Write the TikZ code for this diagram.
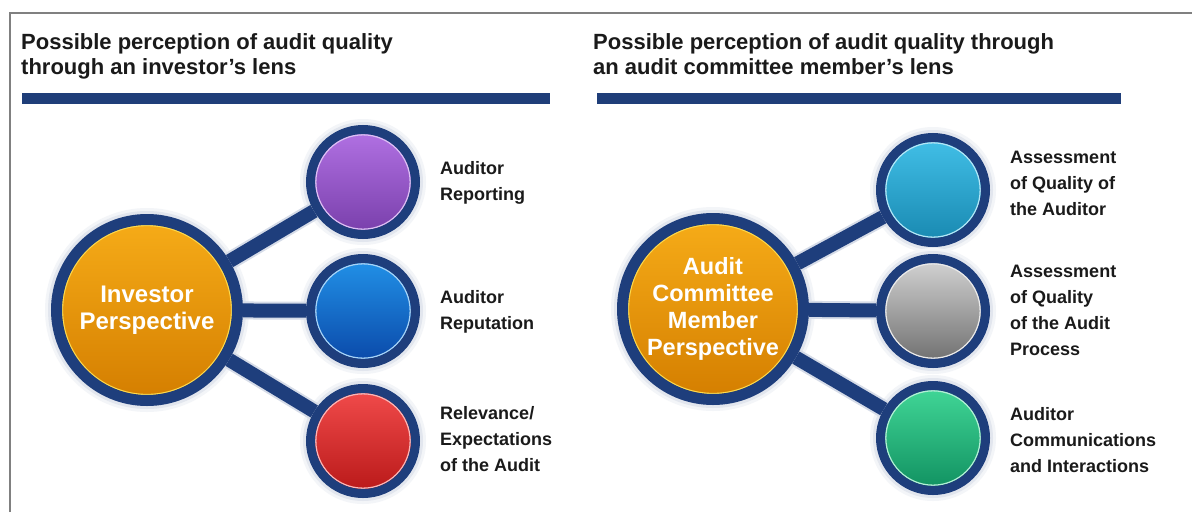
\documentclass[tikz,border=0pt]{standalone}
\usepackage{fontspec}
\setmainfont{Liberation Sans}
\usetikzlibrary{backgrounds}

\definecolor{navy}{RGB}{30,62,124}
\definecolor{barnavy}{RGB}{31,62,121}
\definecolor{framegray}{RGB}{128,128,128}
\definecolor{inkdark}{RGB}{26,26,26}
\definecolor{halolight}{RGB}{243,245,248}
\definecolor{halomid}{RGB}{226,230,238}
\definecolor{connedge}{RGB}{214,220,232}

\definecolor{orangetop}{RGB}{246,172,24}
\definecolor{orangebot}{RGB}{212,126,0}
\definecolor{purpletop}{RGB}{178,114,228}
\definecolor{purplebot}{RGB}{120,62,170}
\definecolor{bluetop}{RGB}{34,146,232}
\definecolor{bluebot}{RGB}{10,72,168}
\definecolor{redtop}{RGB}{242,76,76}
\definecolor{redbot}{RGB}{184,24,24}
\definecolor{tealtop}{RGB}{66,192,232}
\definecolor{tealbot}{RGB}{24,136,176}
\definecolor{graytop}{RGB}{212,212,212}
\definecolor{graybot}{RGB}{110,110,110}
\definecolor{greentop}{RGB}{66,216,152}
\definecolor{greenbot}{RGB}{16,144,96}

\tikzset{
  titletext/.style={anchor=north west, inner sep=0pt, align=left, text=inkdark,
    font=\bfseries\fontsize{22}{25}\selectfont},
  hubball/.style={circle, minimum size=181pt, inner sep=0pt,
    top color=orangetop, bottom color=orangebot, draw=navy, line width=11pt,
    text=white, align=center,
    path picture={\draw[color=orange!40!yellow!70!white, line width=1.3pt]
      (path picture bounding box.center) circle[radius=84.5pt];}},
  smallball/.style n args={3}{circle, minimum size=105pt, inner sep=0pt,
    top color=#1, bottom color=#2, draw=navy, line width=9pt,
    path picture={\draw[color=#3, line width=1.3pt]
      (path picture bounding box.center) circle[radius=47.2pt];}},
  lbl/.style={anchor=west, inner sep=0pt, align=left, text=inkdark,
    font=\bfseries\fontsize{18}{26}\selectfont},
  connedgeline/.style={draw=connedge, line width=18pt},
  connline/.style={draw=navy, line width=14pt},
}

\begin{document}
\begin{tikzpicture}[x=1pt, y=-1pt]
  \useasboundingbox (0,0) rectangle (1192,512);

  % frame edges
  \draw[framegray, line width=2pt] (10,512) -- (10,13) -- (1192,13);

  % headings and rules
  \node[titletext] (tleft) at (21,33)
    {Possible perception of audit quality\\through an investor’s lens};
  \node[titletext] (tright) at (593,33)
    {Possible perception of audit quality through\\an audit committee member’s lens};
  \fill[barnavy] (22,93) rectangle (550,104);
  \fill[barnavy] (597,93) rectangle (1121,104);

  % investor view
  \node[hubball, font=\bfseries\fontsize{24}{27}\selectfont] (inv) at (147,310) {Investor\\Perspective};
  \node[smallball={purpletop}{purplebot}{purpletop!45!white}] (rpt) at (363,182) {};
  \node[smallball={bluetop}{bluebot}{bluetop!40!white}] (rep) at (363,311) {};
  \node[smallball={redtop}{redbot}{redtop!40!white}] (rel) at (363,441) {};

  \node[lbl] (lrpt) at (440,183) {Auditor\\Reporting};
  \node[lbl] (lrep) at (440,312) {Auditor\\Reputation};
  \node[lbl] (lrel) at (440,439) {Relevance/\\Expectations\\of the Audit};

  % audit committee member view
  \node[hubball, font=\bfseries\fontsize{23.5}{27}\selectfont] (acm) at (713,309) {Audit\\Committee\\Member\\Perspective};
  \node[smallball={tealtop}{tealbot}{tealtop!40!white}] (qaud) at (933,190) {};
  \node[smallball={graytop}{graybot}{graytop!50!white}] (qproc) at (933,311) {};
  \node[smallball={greentop}{greenbot}{greentop!40!white}] (comm) at (933,438) {};

  \node[lbl] (lqaud) at (1010,183) {Assessment\\of Quality of\\the Auditor};
  \node[lbl] (lqproc) at (1010,310) {Assessment\\of Quality\\of the Audit\\Process};
  \node[lbl] (lcomm) at (1010,440) {Auditor\\Communications\\and Interactions};

  \begin{scope}[on background layer]
    \fill[white] (0,0) rectangle (1192,512);
    % soft halos round every disc
    \foreach \n in {inv,acm} {
      \fill[halolight] (\n.center) circle[radius=102pt];
      \fill[halomid] (\n.center) circle[radius=99pt];
    }
    \foreach \n in {rpt,rep,rel,qaud,qproc,comm} {
      \fill[halolight] (\n.center) circle[radius=63pt];
      \fill[halomid] (\n.center) circle[radius=60pt];
    }
    % spokes
    \foreach \a/\b in {inv/rpt,inv/rep,inv/rel,acm/qaud,acm/qproc,acm/comm} {
      \draw[connedgeline] (\a) -- (\b);
    }
    \foreach \a/\b in {inv/rpt,inv/rep,inv/rel,acm/qaud,acm/qproc,acm/comm} {
      \draw[connline] (\a) -- (\b);
    }
  \end{scope}
\end{tikzpicture}
\end{document}
